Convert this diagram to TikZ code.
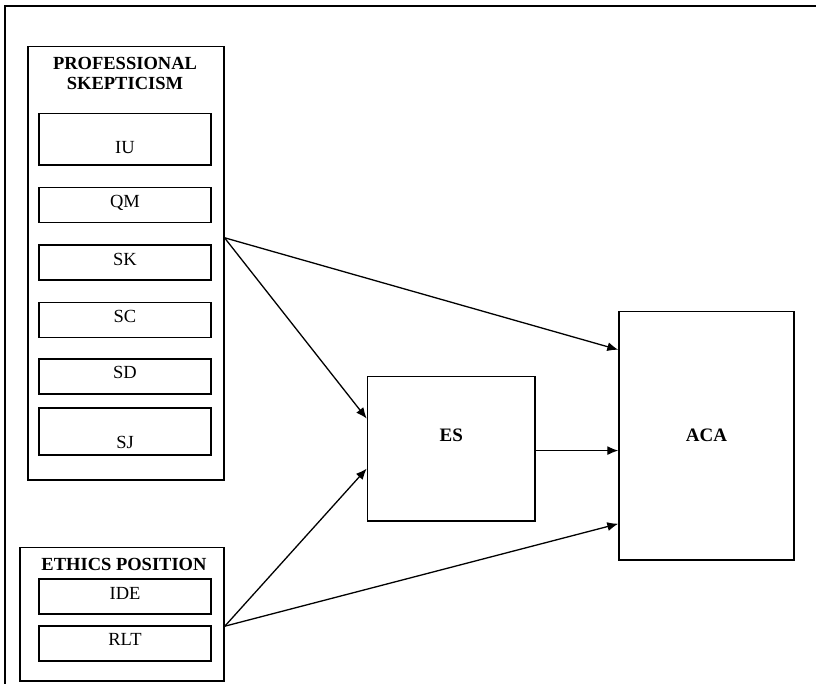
\documentclass[tikz,border=0pt]{standalone}
\usepackage{fontspec}
\setmainfont{Liberation Serif}
\usepackage{tikz}
\usetikzlibrary{arrows.meta,calc,positioning}
\tikzstyle{box_line}=[draw, line width=1.5pt]
\tikzstyle{group}=[box_line, anchor=north west, inner sep=0pt]
\tikzstyle{heading}=[anchor=north, inner sep=0pt, align=center, font=\fontsize{18.5}{20}\selectfont\bfseries]
\tikzstyle{item}=[box_line, anchor=north, minimum width=172pt, inner ysep=1pt,
text height=19pt, text depth=14pt, font=\fontsize{18.5}{20}\selectfont]
\tikzstyle{tallitem}=[item, text height=39pt, text depth=10.5pt]
\tikzstyle{construct}=[box_line, anchor=north west, font=\fontsize{19}{20}\selectfont\bfseries]
\tikzstyle{myarrow}=[-{Latex[length=11pt,width=9pt]}, line width=1.3pt]

\begin{document}
\begin{tikzpicture}[x=1pt,y=-1pt]
		\clip (0,0) rectangle (816,684);
		\draw[line width=1.5pt] (5,6) rectangle (840,700);

		% professional skepticism
		\node[group, minimum width=196pt, minimum height=433pt] (PS) at (27,46) {};
		\node[heading] (PStitle) at (125,57) {PROFESSIONAL\\SKEPTICISM};
		\node[tallitem] (IU) at (125,112.7) {IU};
		\node[item] (QM) at (125,187) {QM};
		\node[item] (SK) at (125,244.5) {SK};
		\node[item] (SC) at (125,301.7) {SC};
		\node[item] (SD) at (125,358) {SD};
		\node[tallitem, text height=40pt, text depth=5pt] (SJ) at (125,407) {SJ};

		% ethics position
		\node[group, minimum width=204pt, minimum height=133.5pt] (EP) at (19.3,546.7) {};
		\node[heading] (EPtitle) at (124,558) {ETHICS POSITION};
		\node[item] (IDE) at (125,578.3) {IDE};
		\node[item] (RLT) at (125,625) {RLT};

		\node[construct, text depth=26pt, minimum width=167.6pt, minimum height=144.3pt] (ES) at (366.7,375.7) {ES};
		\node[construct, minimum width=175pt, minimum height=248.6pt] (ACA) at (618.3,310.7) {ACA};

		\draw[myarrow] ([yshift=25.5pt]PS.east) -- ([yshift=86pt]ACA.west);
		\draw[myarrow] ([yshift=25.5pt]PS.east) -- ([yshift=30pt]ES.west);
		\draw[myarrow] ([yshift=-2pt]ES.east) -- ([yshift=-2pt]ES.east -| ACA.west);
		\draw[myarrow] ([yshift=-12pt]EP.east) -- ([yshift=-20pt]ES.west);
		\draw[myarrow] ([yshift=-12pt]EP.east) -- ([yshift=-88pt]ACA.west);
	\end{tikzpicture}
\end{document}
